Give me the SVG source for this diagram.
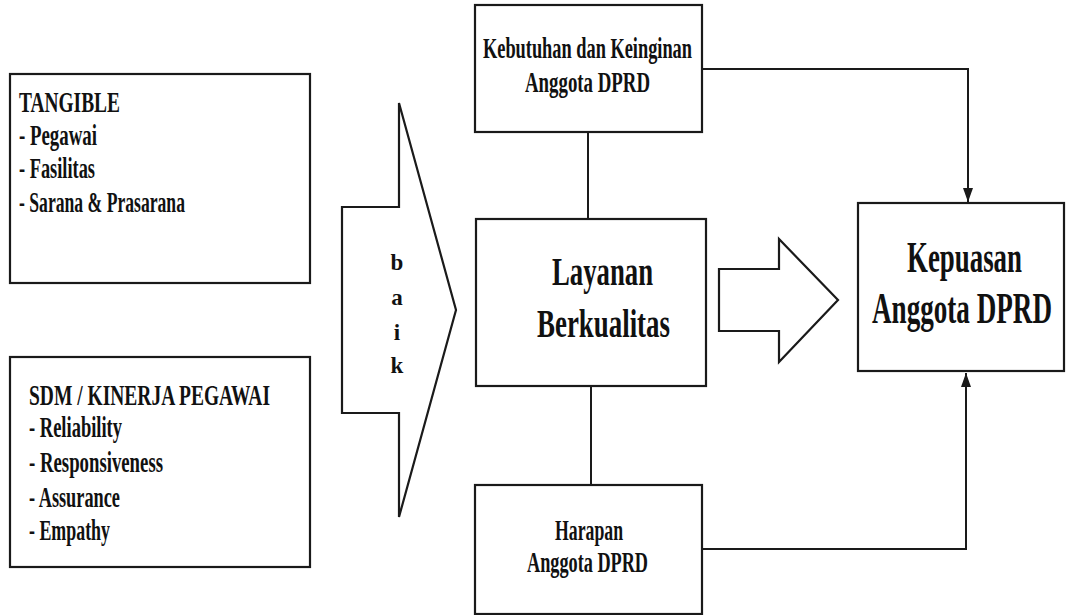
<svg xmlns="http://www.w3.org/2000/svg" width="1066" height="615" viewBox="0 0 1066 615">
<defs>
<style>
.box{fill:#fff;stroke:#1a1a1a;stroke-width:2.2}
.ln{fill:none;stroke:#1a1a1a;stroke-width:2}
.t{font-family:"Liberation Serif","Times New Roman",serif;font-weight:bold;fill:#111}
.s28{font-size:29px}
.s38{font-size:39px}
.s44{font-size:45px}
.s22{font-size:23px}
</style>
<marker id="ah2" viewBox="0 0 14 10" refX="14" refY="5" markerWidth="15" markerHeight="10" markerUnits="userSpaceOnUse" orient="auto">
<path d="M0,0 L14,5 L0,10 Z" fill="#1a1a1a"/>
</marker>
</defs>
<rect width="1066" height="615" fill="#fff"/>

<g id="connectors">
<line class="ln" x1="588" y1="132" x2="588" y2="219"/>
<line class="ln" x1="591" y1="386" x2="591" y2="485"/>
<polyline class="ln" points="702,69 968,69 968,202" marker-end="url(#ah2)"/>
<polyline class="ln" points="702,549 966,549 966,373" marker-end="url(#ah2)"/>
</g>

<g id="tangible">
<rect class="box" x="10" y="74" width="300" height="209"/>
<text class="t s28" x="19" y="112" textLength="101" lengthAdjust="spacingAndGlyphs">TANGIBLE</text>
<text class="t s28" x="19" y="145" textLength="78" lengthAdjust="spacingAndGlyphs">- Pegawai</text>
<text class="t s28" x="19" y="178" textLength="76" lengthAdjust="spacingAndGlyphs">- Fasilitas</text>
<text class="t s28" x="19" y="212" textLength="166" lengthAdjust="spacingAndGlyphs">- Sarana &amp; Prasarana</text>
</g>

<g id="sdm">
<rect class="box" x="10" y="357" width="300" height="210"/>
<text class="t s28" x="29" y="405" textLength="241" lengthAdjust="spacingAndGlyphs">SDM / KINERJA PEGAWAI</text>
<text class="t s28" x="29" y="437" textLength="93" lengthAdjust="spacingAndGlyphs">- Reliability</text>
<text class="t s28" x="29" y="472" textLength="134" lengthAdjust="spacingAndGlyphs">- Responsiveness</text>
<text class="t s28" x="29" y="507" textLength="91" lengthAdjust="spacingAndGlyphs">- Assurance</text>
<text class="t s28" x="29" y="540" textLength="81" lengthAdjust="spacingAndGlyphs">- Empathy</text>
</g>

<g id="baik">
<polygon class="box" points="342,207 399,207 399,103 456,310 399,517 399,413 342,413"/>
<text class="t s22" x="397" y="270" text-anchor="middle">b</text>
<text class="t s22" x="397" y="305" text-anchor="middle">a</text>
<text class="t s22" x="397" y="340" text-anchor="middle">i</text>
<text class="t s22" x="397" y="373" text-anchor="middle">k</text>
</g>

<g id="kebutuhan">
<rect class="box" x="475" y="5" width="227" height="127"/>
<text class="t s28" x="483" y="58" textLength="209" lengthAdjust="spacingAndGlyphs">Kebutuhan dan Keinginan</text>
<text class="t s28" x="525" y="92" textLength="125" lengthAdjust="spacingAndGlyphs">Anggota DPRD</text>
</g>

<g id="layanan">
<rect class="box" x="476" y="219" width="230" height="167"/>
<text class="t s38" x="552" y="285" textLength="101" lengthAdjust="spacingAndGlyphs">Layanan</text>
<text class="t s38" x="537" y="337" textLength="133" lengthAdjust="spacingAndGlyphs">Berkualitas</text>
</g>

<g id="arrow-right">
<polygon class="box" points="719,269 779,269 779,239 838,300 779,362 779,331 719,331"/>
</g>

<g id="harapan">
<rect class="box" x="475" y="485" width="227" height="129"/>
<text class="t s28" x="555" y="540" textLength="68" lengthAdjust="spacingAndGlyphs">Harapan</text>
<text class="t s28" x="527" y="572" textLength="121" lengthAdjust="spacingAndGlyphs">Anggota DPRD</text>
</g>

<g id="kepuasan">
<rect class="box" x="858" y="203" width="206" height="168"/>
<text class="t s44" transform="translate(907,272) scale(0.6,1)" x="0" y="0" textLength="191.7" lengthAdjust="spacingAndGlyphs">Kepuasan</text>
<text class="t s44" transform="translate(872,323) scale(0.6,1)" x="0" y="0" textLength="300" lengthAdjust="spacingAndGlyphs">Anggota DPRD</text>
</g>
</svg>
